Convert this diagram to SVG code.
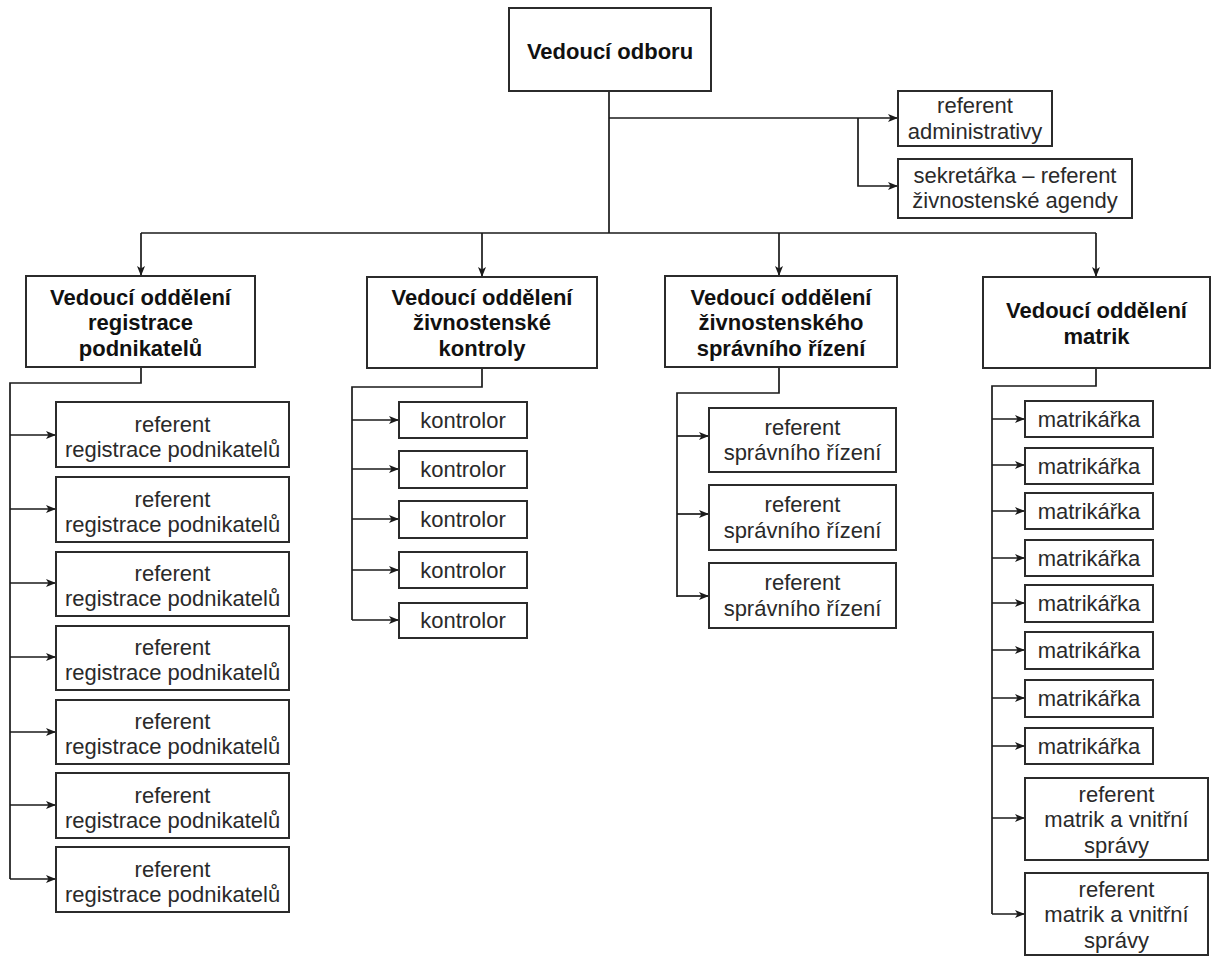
<svg xmlns="http://www.w3.org/2000/svg" width="1212" height="958" viewBox="0 0 1212 958">
<style>
.box{fill:#fff;stroke:#2b2b2b;stroke-width:2}
.t{font-family:"Liberation Sans",Arial,sans-serif;font-size:22px;fill:#2a2a2a;text-anchor:middle}
.b{font-weight:bold;fill:#111}
.c{fill:none;stroke:#1a1a1a;stroke-width:1.7}
.a{marker-end:url(#arr)}
</style>
<defs>
<marker id="arr" markerUnits="userSpaceOnUse" markerWidth="11" markerHeight="9" refX="10" refY="4.5" orient="auto">
<path d="M0,0.5 L10,4.5 L0,8.5 L2.5,4.5 z" fill="#1a1a1a"/>
</marker>
</defs>
<rect width="1212" height="958" fill="#fff"/>
<g id="connectors">
<path class="c" d="M609,91 V233"/>
<path class="c" d="M141,233 H1096"/>
<path class="c a" d="M141,233 V276"/>
<path class="c a" d="M482,233 V277"/>
<path class="c a" d="M779,233 V276"/>
<path class="c a" d="M1096,233 V277"/>
<path class="c a" d="M609,118 H898"/>
<path class="c a" d="M858,118 V186 H898"/>
<path class="c" d="M141,367 V383 H10 V879"/>
<path class="c a" d="M10,435 H56"/>
<path class="c a" d="M10,509 H56"/>
<path class="c a" d="M10,583 H56"/>
<path class="c a" d="M10,657 H56"/>
<path class="c a" d="M10,732 H56"/>
<path class="c a" d="M10,805 H56"/>
<path class="c a" d="M10,879 H56"/>
<path class="c" d="M482,368 V387 H352 V620"/>
<path class="c a" d="M352,420 H399"/>
<path class="c a" d="M352,469 H399"/>
<path class="c a" d="M352,519 H399"/>
<path class="c a" d="M352,570 H399"/>
<path class="c a" d="M352,620 H399"/>
<path class="c" d="M779,367 V393 H677 V597"/>
<path class="c a" d="M677,436 H709"/>
<path class="c a" d="M677,514 H709"/>
<path class="c a" d="M677,596 H709"/>
<path class="c" d="M1096,368 V386 H992 V914"/>
<path class="c a" d="M992,419 H1025"/>
<path class="c a" d="M992,465 H1025"/>
<path class="c a" d="M992,511 H1025"/>
<path class="c a" d="M992,558 H1025"/>
<path class="c a" d="M992,603 H1025"/>
<path class="c a" d="M992,650 H1025"/>
<path class="c a" d="M992,698 H1025"/>
<path class="c a" d="M992,746 H1025"/>
<path class="c a" d="M992,818 H1025"/>
<path class="c a" d="M992,914 H1025"/>
</g>
<g id="n-root"><rect class="box" x="509" y="8" width="202" height="83"/><text class="t b" x="610" y="59">Vedoucí odboru</text></g>
<g id="n-admin"><rect class="box" x="898" y="91" width="154" height="55"/><text class="t" x="975" y="113">referent</text><text class="t" x="975" y="139">administrativy</text></g>
<g id="n-sekr"><rect class="box" x="898" y="159" width="234" height="59"/><text class="t" x="1015" y="183">sekretářka – referent</text><text class="t" x="1015" y="208">živnostenské agendy</text></g>
<g id="n-d1"><rect class="box" x="26" y="276" width="229" height="91"/><text class="t b" x="140.5" y="305">Vedoucí oddělení</text><text class="t b" x="140.5" y="330">registrace</text><text class="t b" x="140.5" y="356">podnikatelů</text></g>
<g id="n-d2"><rect class="box" x="367" y="277" width="230" height="91"/><text class="t b" x="482" y="305">Vedoucí oddělení</text><text class="t b" x="482" y="330">živnostenské</text><text class="t b" x="482" y="356">kontroly</text></g>
<g id="n-d3"><rect class="box" x="665" y="276" width="232" height="91"/><text class="t b" x="781" y="305">Vedoucí oddělení</text><text class="t b" x="781" y="330">živnostenského</text><text class="t b" x="781" y="356">správního řízení</text></g>
<g id="n-d4"><rect class="box" x="983" y="277" width="227" height="91"/><text class="t b" x="1096.5" y="318">Vedoucí oddělení</text><text class="t b" x="1096.5" y="344">matrik</text></g>
<g id="n-r1"><rect class="box" x="56" y="402" width="233" height="65"/><text class="t" x="172.5" y="432">referent</text><text class="t" x="172.5" y="457">registrace podnikatelů</text></g>
<g id="n-r2"><rect class="box" x="56" y="477" width="233" height="65"/><text class="t" x="172.5" y="507">referent</text><text class="t" x="172.5" y="532">registrace podnikatelů</text></g>
<g id="n-r3"><rect class="box" x="56" y="552" width="233" height="64"/><text class="t" x="172.5" y="581">referent</text><text class="t" x="172.5" y="606">registrace podnikatelů</text></g>
<g id="n-r4"><rect class="box" x="56" y="626" width="233" height="64"/><text class="t" x="172.5" y="655">referent</text><text class="t" x="172.5" y="680">registrace podnikatelů</text></g>
<g id="n-r5"><rect class="box" x="56" y="700" width="233" height="64"/><text class="t" x="172.5" y="729">referent</text><text class="t" x="172.5" y="754">registrace podnikatelů</text></g>
<g id="n-r6"><rect class="box" x="56" y="773" width="233" height="65"/><text class="t" x="172.5" y="803">referent</text><text class="t" x="172.5" y="828">registrace podnikatelů</text></g>
<g id="n-r7"><rect class="box" x="56" y="847" width="233" height="65"/><text class="t" x="172.5" y="877">referent</text><text class="t" x="172.5" y="902">registrace podnikatelů</text></g>
<g id="n-k1"><rect class="box" x="399" y="402" width="128" height="36"/><text class="t" x="463" y="428">kontrolor</text></g>
<g id="n-k2"><rect class="box" x="399" y="451" width="128" height="37"/><text class="t" x="463" y="477">kontrolor</text></g>
<g id="n-k3"><rect class="box" x="399" y="501" width="128" height="37"/><text class="t" x="463" y="527">kontrolor</text></g>
<g id="n-k4"><rect class="box" x="399" y="552" width="128" height="36"/><text class="t" x="463" y="578">kontrolor</text></g>
<g id="n-k5"><rect class="box" x="399" y="603" width="128" height="35"/><text class="t" x="463" y="628">kontrolor</text></g>
<g id="n-s1"><rect class="box" x="709" y="408" width="187" height="64"/><text class="t" x="802.5" y="435">referent</text><text class="t" x="802.5" y="460">správního řízení</text></g>
<g id="n-s2"><rect class="box" x="709" y="485" width="187" height="65"/><text class="t" x="802.5" y="512">referent</text><text class="t" x="802.5" y="538">správního řízení</text></g>
<g id="n-s3"><rect class="box" x="709" y="563" width="187" height="65"/><text class="t" x="802.5" y="590">referent</text><text class="t" x="802.5" y="616">správního řízení</text></g>
<g id="n-m1"><rect class="box" x="1025" y="401" width="128" height="36"/><text class="t" x="1089" y="427">matrikářka</text></g>
<g id="n-m2"><rect class="box" x="1025" y="448" width="128" height="36"/><text class="t" x="1089" y="474">matrikářka</text></g>
<g id="n-m3"><rect class="box" x="1025" y="493" width="128" height="36"/><text class="t" x="1089" y="519">matrikářka</text></g>
<g id="n-m4"><rect class="box" x="1025" y="540" width="128" height="36"/><text class="t" x="1089" y="566">matrikářka</text></g>
<g id="n-m5"><rect class="box" x="1025" y="585" width="128" height="37"/><text class="t" x="1089" y="611">matrikářka</text></g>
<g id="n-m6"><rect class="box" x="1025" y="632" width="128" height="37"/><text class="t" x="1089" y="658">matrikářka</text></g>
<g id="n-m7"><rect class="box" x="1025" y="680" width="128" height="37"/><text class="t" x="1089" y="706">matrikářka</text></g>
<g id="n-m8"><rect class="box" x="1025" y="728" width="128" height="36"/><text class="t" x="1089" y="754">matrikářka</text></g>
<g id="n-v1"><rect class="box" x="1025" y="778" width="183" height="82"/><text class="t" x="1116.5" y="802">referent</text><text class="t" x="1116.5" y="827">matrik a vnitřní</text><text class="t" x="1116.5" y="853">správy</text></g>
<g id="n-v2"><rect class="box" x="1025" y="873" width="183" height="82"/><text class="t" x="1116.5" y="897">referent</text><text class="t" x="1116.5" y="922">matrik a vnitřní</text><text class="t" x="1116.5" y="948">správy</text></g>
</svg>
